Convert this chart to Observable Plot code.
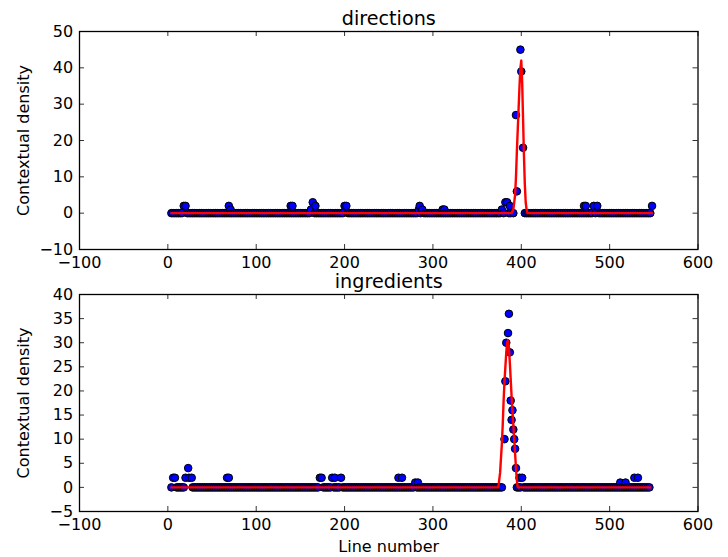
<!DOCTYPE html>
<html><head><meta charset="utf-8">
<script src="https://cdn.jsdelivr.net/npm/d3@7"></script>
<script src="https://cdn.jsdelivr.net/npm/@observablehq/plot@0.6"></script>
<style>
html,body{margin:0;padding:0;background:#fff;}
#fig{position:relative;width:728px;height:557px;overflow:hidden;background:#fff;}
#fig svg{position:absolute;left:0;display:block;}
</style></head><body><div id="fig"></div>
<script>
// ---- shared axis data ----
const xTicks = [-100, 0, 100, 200, 300, 400, 500, 600];
const xDomain = [-100, 600];
const lineStep = 2; // spacing of the zero-count lines seen along the baseline

// ---- "directions" panel ----
const dirTitle = "directions";
const dirYTicks = [-10, 0, 10, 20, 30, 40, 50];
const dirYDomain = [-10, 50];
const dirZeroRuns = [[4, 388], [391, 391], [404, 546]];
const dirLines  = [18, 20, 69, 71, 139, 141, 162, 164, 167, 200, 202, 284, 285, 288, 311, 313, 378, 382, 384, 387, 394, 395, 399, 400, 402, 471, 473, 482, 486, 548];
const dirCounts = [2, 2, 2, 1, 2, 2, 1, 3, 2, 2, 2, 1, 2, 1, 1, 1, 1, 3, 3, 2, 27, 6, 45, 39, 18, 2, 2, 2, 2, 2];
const dirFitLines  = [4, 389, 391, 393, 394, 395, 396, 397, 398, 399, 400, 401, 402, 403, 404, 405, 406, 407, 548];
const dirFitValues = [0, 0, 1, 5, 10, 17, 23, 29, 35, 40, 42, 36, 26, 16, 8, 3, 1, 0, 0];

// ---- "ingredients" panel ----
const ingTitle = "ingredients";
const ingYTicks = [-5, 0, 5, 10, 15, 20, 25, 30, 35, 40];
const ingYDomain = [-5, 40];
const ingZeroRuns = [[4, 18], [28, 379], [395, 546]];
const ingLines  = [6, 8, 20, 23, 24, 27, 67, 69, 172, 174, 186, 189, 196, 261, 265, 280, 283, 381, 382, 383, 385, 386, 387, 388, 389, 390, 391, 392, 393, 394, 398, 401, 512, 518, 528, 532];
const ingCounts = [2, 2, 2, 4, 2, 2, 2, 2, 2, 2, 2, 2, 2, 2, 2, 1, 1, 10, 22, 30, 32, 36, 28, 18, 14, 16, 12, 10, 8, 4, 2, 2, 1, 1, 2, 2];
const ingFitLines  = [4, 374, 376, 378, 379, 380, 381, 382, 383, 384, 385, 386, 387, 388, 389, 390, 391, 392, 393, 394, 395, 396, 546];
const ingFitValues = [0, 0, 3, 9, 13, 18, 22, 25, 28, 30, 30.5, 29, 26, 22.5, 19, 16, 13, 10, 7, 4, 1.5, 0, 0];

const yLabel = "Contextual density";
const xLabel = "Line number";

const FONT = "DejaVu Sans";
const fmt = d => d < 0 ? "\u2212" + Math.abs(d) : String(d);

function panel(o) {
  const nonzero = new Set(o.lines);
  const pts = [];
  for (const [a, b] of o.zeroRuns) for (const l of d3.range(a, b + 1, lineStep)) if (!nonzero.has(l)) pts.push({line: l, count: 0});
  o.lines.forEach((l, i) => pts.push({line: l, count: o.counts[i]}));
  pts.sort((p, q) => p.line - q.line);
  const fit = o.fitLines.map((l, i) => ({line: l, v: o.fitValues[i]}));
  const W = 728, mL = 79, mR = 30.5;
  const frameW = W - mL - mR, frameH = o.height - o.marginTop - o.marginBottom;
  const tk = {stroke: "black", strokeWidth: 0.8};
  const marks = [
    Plot.dot(pts, {x: "line", y: "count", r: 3.8, fill: "#0000ff", stroke: "black", strokeWidth: 1}),
    Plot.line(fit, {x: "line", y: "v", stroke: "#ff0000", strokeWidth: 2.4}),
    Plot.ruleX(xTicks, {...tk, insetBottom: frameH - 5}),
    Plot.ruleX(xTicks, {...tk, insetTop: frameH - 5}),
    Plot.ruleY(o.yTicks, {...tk, insetRight: frameW - 5}),
    Plot.ruleY(o.yTicks, {...tk, insetLeft: frameW - 5}),
    Plot.axisX({ticks: xTicks, tickSize: 0, tickPadding: 7, tickFormat: fmt, fontSize: 16, fill: "black", label: null}),
    Plot.axisY({ticks: o.yTicks, tickSize: 0, tickPadding: 6.3, tickFormat: fmt, fontSize: 16, fill: "black", label: null}),
    Plot.frame({stroke: "black", strokeWidth: 1.3}),
    Plot.text([o.title], {frameAnchor: "top", dy: -7, lineAnchor: "bottom", textAnchor: "middle", fontSize: 19.2, fill: "black"}),
    Plot.text([yLabel], {frameAnchor: "left", dx: -55.2, rotate: -90, lineAnchor: "middle", textAnchor: "middle", fontSize: 16, fill: "black"})
  ];
  if (o.xLabel) marks.push(Plot.text([o.xLabel], {frameAnchor: "bottom", dy: 40.7, lineAnchor: "bottom", textAnchor: "middle", fontSize: 16, fill: "black"}));
  const svg = Plot.plot({
    width: W, height: o.height,
    marginLeft: mL, marginRight: mR, marginTop: o.marginTop, marginBottom: o.marginBottom,
    x: {domain: xDomain, axis: null},
    y: {domain: o.yDomain, axis: null},
    style: {fontFamily: FONT, fontSize: "16px", color: "black", background: "white", overflow: "visible"},
    marks
  });
  svg.style.top = o.top + "px";
  return svg;
}

const fig = document.getElementById("fig");
fig.appendChild(panel({title: dirTitle, lines: dirLines, counts: dirCounts, zeroRuns: dirZeroRuns,
  fitLines: dirFitLines, fitValues: dirFitValues, yDomain: dirYDomain, yTicks: dirYTicks,
  top: 0, height: 275, marginTop: 31, marginBottom: 26}));
fig.appendChild(panel({title: ingTitle, lines: ingLines, counts: ingCounts, zeroRuns: ingZeroRuns,
  fitLines: ingFitLines, fitValues: ingFitValues, yDomain: ingYDomain, yTicks: ingYTicks,
  top: 275, height: 282, marginTop: 19, marginBottom: 46, xLabel: xLabel}));
</script></body></html>
